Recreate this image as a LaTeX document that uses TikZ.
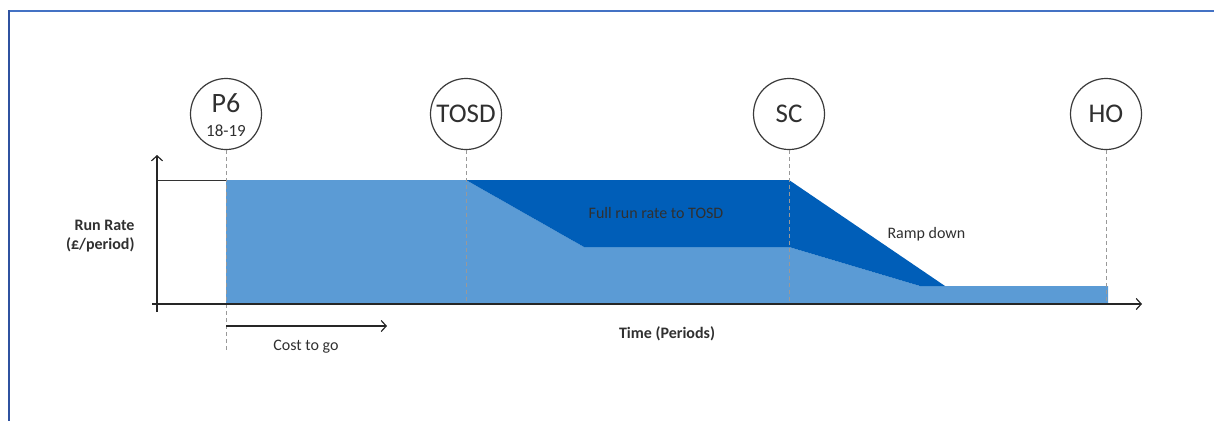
\documentclass[tikz,border=0pt]{standalone}
\usepackage{fontspec}
\setmainfont{Carlito}
\usetikzlibrary{arrows.meta}
\definecolor{lightblue}{HTML}{5B9BD5}
\definecolor{darkblue}{HTML}{005EB8}
\definecolor{frametop}{HTML}{4472C4}
\definecolor{frameleft}{HTML}{2F52A0}
\definecolor{circgray}{HTML}{3A3A3A}
\definecolor{txtgray}{HTML}{303030}
\tikzset{
  milestone/.style={circle, draw=circgray, line width=1.2pt, minimum size=71pt, inner sep=0pt, fill=white, font=\fontsize{27}{29}\selectfont, text=txtgray},
  guide/.style={dashed, dash pattern=on 4pt off 3pt, draw=gray!80, line width=0.9pt},
  axis/.style={line width=1.8pt, draw=black!85},
  tip/.style={-{Straight Barb[length=5pt,width=11pt,line width=1.2pt]}},
  lbl/.style={font=\fontsize{16}{19}\selectfont, text=txtgray},
  blbl/.style={font=\bfseries\fontsize{16}{19}\selectfont, text=txtgray}
}
\begin{document}
\begin{tikzpicture}[x=1pt,y=-1pt]
\useasboundingbox (0,0) rectangle (1214,421);
% frame
\draw[frametop, line width=2pt] (9,11) -- (1214,11);
\draw[frameleft, line width=2pt] (9,10) -- (9,421);
% areas
\fill[lightblue] (226,304) -- (226,180) -- (466,180) -- (584,247) -- (789,247) -- (920,286) -- (1108,286) -- (1108,304) -- cycle;
\fill[darkblue] (466,180) -- (789,180) -- (945,286) -- (920,286) -- (789,247) -- (584,247) -- cycle;
% outline of past rectangle
\draw[black!80, line width=1pt] (157,180) -- (226,180);
% milestones
\node[milestone] (p6) at (226,114) {};
\node[text=txtgray, font=\fontsize{28}{30}\selectfont] (p6t) at (226,103) {P6};
\node[text=txtgray, font=\fontsize{17}{19}\selectfont] (p6y) at (226,131) {18-19};
\node[milestone] (tosd) at (466,114) {TOSD};
\node[milestone] (sc) at (789,114) {SC};
\node[milestone] (ho) at (1106,114) {HO};
\coordinate (p6b) at (226,352);
\coordinate (tosdb) at (466,304);
\coordinate (scb) at (789,304);
\coordinate (hob) at (1106,304);
\draw[guide] (p6.south) -- (p6b);
\draw[guide] (tosd.south) -- (tosdb);
\draw[guide] (sc.south) -- (scb);
\draw[guide] (ho.south) -- (hob);
% axes
\coordinate (yb) at (157,312);
\coordinate (yt) at (157,155);
\coordinate (xl) at (152,304);
\coordinate (xr) at (1142,304);
\draw[axis, tip] (yb) -- (yt);
\draw[axis, tip] (xl) -- (xr);
% cost to go
\coordinate (cs) at (226,326);
\coordinate (ce) at (387,326);
\draw[black!85, line width=1.2pt, tip] (cs) -- (ce);
% labels
\node[lbl] (full) at (656,213) {Full run rate to TOSD};
\node[lbl, anchor=west] (ramp) at (884,234) {Ramp down};
\node[blbl] (time) at (667,334) {Time (Periods)};
\node[lbl] (cost) at (306,347) {Cost to go};
\node[blbl, align=right, anchor=east] (rr) at (138,236) {Run Rate\\(£/period)};
\end{tikzpicture}
\end{document}
